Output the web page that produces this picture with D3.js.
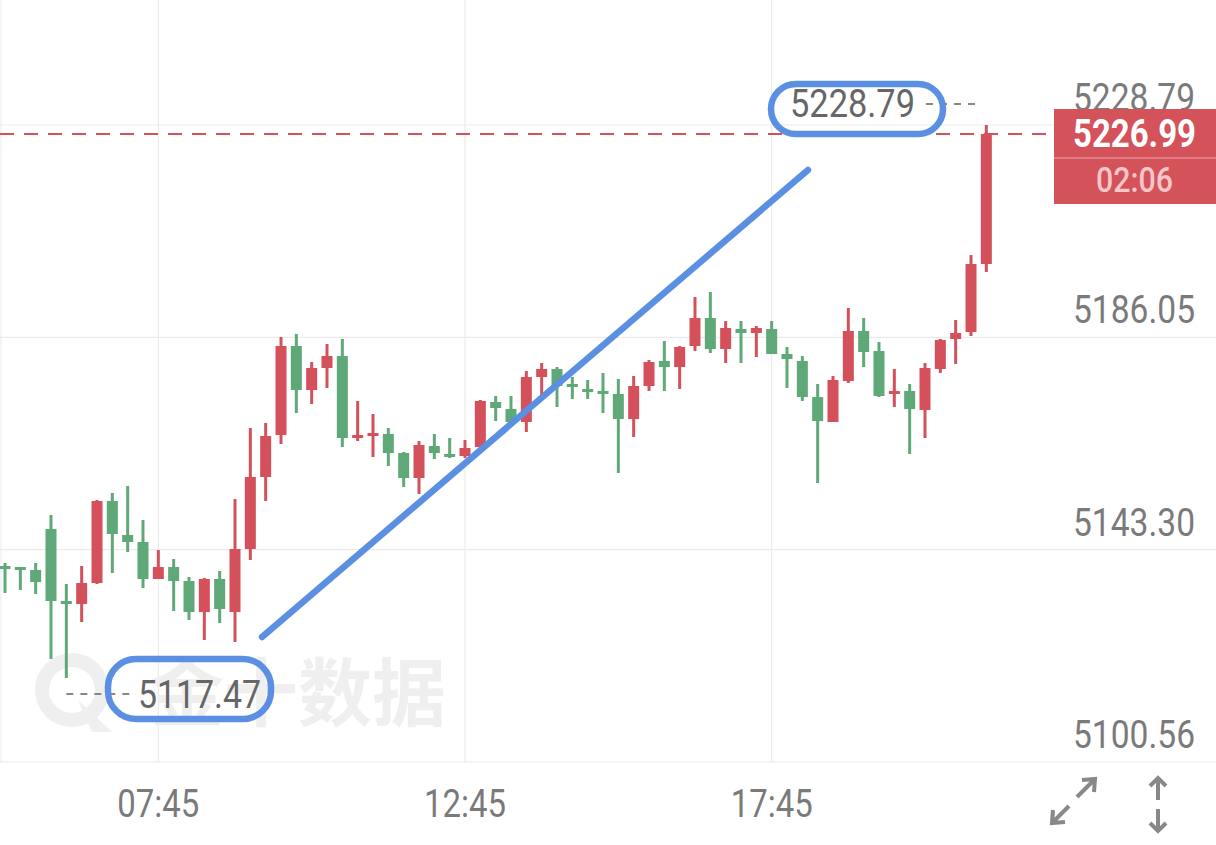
<!DOCTYPE html>
<html><head><meta charset="utf-8">
<script src="https://cdn.jsdelivr.net/npm/d3@7"></script>
<style>html,body{margin:0;padding:0;background:#fff;}svg{display:block;}</style>
</head><body>
<svg id="c" width="1216" height="845"></svg>
<script>
// 15-minute candles from 05:15 to 21:15
const startTime = "05:15";
const opens  = [5140.01,5139.81,5139.21,5147.46,5132.97,5132.36,5136.59,5153.10,5146.25,5144.85,5137.40,5139.81,5136.99,5130.75,5137.40,5130.75,5143.44,5157.93,5166.38,5184.30,5175.44,5179.87,5182.29,5165.78,5166.38,5166.59,5162.76,5157.73,5164.17,5162.56,5162.16,5163.97,5173.03,5171.62,5169.00,5178.06,5179.67,5176.65,5175.64,5175.24,5174.64,5169.60,5176.25,5181.28,5180.07,5184.30,5189.94,5183.70,5187.72,5186.92,5187.72,5182.69,5181.28,5174.03,5169.00,5177.25,5187.32,5183.29,5174.64,5175.24,5171.42,5179.67,5185.71,5187.12,5200.81];
const highs  = [5140.62,5139.81,5140.62,5150.28,5136.39,5140.01,5153.30,5154.71,5156.12,5149.27,5143.23,5141.42,5137.80,5137.60,5139.01,5153.50,5167.79,5168.80,5186.11,5186.72,5181.08,5184.70,5185.71,5173.23,5170.61,5167.79,5162.96,5165.18,5166.59,5165.78,5165.38,5173.43,5174.24,5174.24,5179.27,5180.88,5180.07,5178.06,5177.46,5178.87,5177.66,5178.26,5181.48,5185.31,5184.30,5194.16,5195.17,5189.33,5189.33,5188.33,5189.33,5184.10,5182.29,5176.65,5178.26,5191.95,5189.94,5185.11,5179.67,5176.65,5180.88,5185.71,5189.53,5202.62,5228.79];
const lows   = [5134.58,5135.18,5134.38,5121.29,5117.47,5128.74,5136.39,5138.61,5142.83,5135.59,5137.40,5130.95,5129.14,5125.12,5128.54,5124.72,5141.22,5153.10,5164.57,5170.81,5172.62,5175.85,5163.97,5165.18,5161.96,5160.14,5155.92,5154.51,5161.55,5161.75,5161.75,5163.97,5169.20,5168.80,5166.99,5174.44,5172.02,5173.63,5173.63,5170.81,5158.74,5165.98,5175.24,5175.24,5175.64,5183.29,5182.89,5180.88,5180.88,5182.09,5182.69,5175.85,5173.23,5156.72,5169.00,5176.85,5180.07,5174.03,5172.02,5162.56,5165.78,5178.87,5180.68,5186.31,5199.20];
const closes = [5139.61,5139.61,5136.79,5132.97,5132.36,5136.59,5153.10,5146.46,5144.85,5137.40,5139.81,5136.99,5130.75,5137.40,5131.36,5143.44,5157.93,5166.18,5184.30,5175.44,5179.87,5182.29,5165.78,5166.38,5166.79,5162.76,5157.73,5164.37,5162.76,5161.96,5163.77,5173.23,5171.82,5169.00,5178.06,5179.67,5176.25,5176.05,5175.24,5175.04,5169.60,5176.25,5181.08,5180.07,5184.10,5189.94,5183.70,5187.92,5186.92,5187.92,5182.69,5181.68,5174.03,5169.20,5177.46,5187.32,5183.09,5174.24,5175.24,5171.62,5179.87,5185.51,5186.92,5200.81,5226.99];
const yTicks = [5100.56, 5143.30, 5186.05, 5228.79];
const xTickLabels = ["07:45", "12:45", "17:45"];
const lastPrice = 5226.99;
const countdown = "02:06";
const maxHigh = 5228.79;
const minLow = 5117.47;
const watermark = "金十数据";

const parse = d3.timeParse("%H:%M");
const t0 = parse(startTime);
const data = opens.map((o, i) => ({
  t: d3.timeMinute.offset(t0, 15 * i), o, h: highs[i], l: lows[i], c: closes[i]
}));

const svg = d3.select("#c");
const x = d3.scaleTime().domain([t0, data[data.length - 1].t]).range([5, 986.33]);
const y = d3.scaleLinear().domain([5100.56, 5228.79]).range([762, 125]);

const UP = "#d4505a", DOWN = "#5fa878", GRID = "#ebebeb", TXT = "#7a7a7a", BLUE = "#5b8fe2";
const FONT = "Roboto, 'DejaVu Sans', sans-serif";

// grid
svg.append("g").selectAll("line").data(yTicks).join("line")
  .attr("x1", 0).attr("x2", 1216).attr("y1", d => y(d)).attr("y2", d => y(d))
  .attr("stroke", GRID).attr("stroke-width", 1.2);
svg.append("g").selectAll("line").data(xTickLabels).join("line")
  .attr("x1", d => x(parse(d))).attr("x2", d => x(parse(d)))
  .attr("y1", 0).attr("y2", 762).attr("stroke", GRID).attr("stroke-width", 1.2);
svg.append("line").attr("x1", 1).attr("x2", 1).attr("y1", 0).attr("y2", 762).attr("stroke", GRID);

// watermark
const wm = svg.append("g").attr("fill", "#efefef");
wm.append("circle").attr("cx", 72).attr("cy", 690).attr("r", 30)
  .attr("fill", "none").attr("stroke", "#efefef").attr("stroke-width", 14);
wm.append("path").attr("d", "M78,700 L112,732 L92,732 Z");
wm.append("text").attr("x", 150).attr("y", 720).attr("font-size", 74).attr("font-weight", 700)
  .attr("font-family", "'Noto Sans CJK SC', sans-serif").text(watermark);

// candles
const cg = svg.append("g");
const bw = 11;
cg.selectAll("line.w").data(data).join("line").attr("class", "w")
  .attr("x1", d => x(d.t)).attr("x2", d => x(d.t))
  .attr("y1", d => y(d.h)).attr("y2", d => y(d.l))
  .attr("stroke", d => d.c >= d.o ? UP : DOWN).attr("stroke-width", 3);
cg.selectAll("rect.b").data(data).join("rect").attr("class", "b")
  .attr("x", d => x(d.t) - bw / 2).attr("width", bw)
  .attr("y", d => y(Math.max(d.o, d.c)))
  .attr("height", d => Math.max(3, Math.abs(y(d.o) - y(d.c))))
  .attr("fill", d => d.c >= d.o ? UP : DOWN);

// last price dashed line
svg.append("line").attr("x1", 0).attr("x2", 1054).attr("y1", y(lastPrice)).attr("y2", y(lastPrice))
  .attr("stroke", UP).attr("stroke-width", 2).attr("stroke-dasharray", "14,10");

// y axis labels
svg.append("g").selectAll("text").data(yTicks).join("text")
  .attr("x", 1195).attr("y", d => y(d) - 14).attr("text-anchor", "end")
  .attr("font-family", FONT).attr("font-size", 38).attr("fill", TXT)
  .attr("textLength", 122).attr("lengthAdjust", "spacingAndGlyphs")
  .text(d => d.toFixed(2));

// x axis labels
svg.append("g").selectAll("text").data(xTickLabels).join("text")
  .attr("x", d => x(parse(d)) - 41).attr("y", 817)
  .attr("font-family", FONT).attr("font-size", 38).attr("fill", TXT)
  .attr("textLength", 82).attr("lengthAdjust", "spacingAndGlyphs")
  .text(d => d);

// price tag
const tag = svg.append("g");
tag.append("rect").attr("x", 1054).attr("y", 109).attr("width", 162).attr("height", 95).attr("fill", "#d4525a");
tag.append("line").attr("x1", 1054).attr("x2", 1216).attr("y1", 158).attr("y2", 158).attr("stroke", "#e58a8f").attr("stroke-width", 1.5);
tag.append("text").attr("x", 1073).attr("y", 147).attr("font-family", FONT).attr("font-size", 38)
  .attr("font-weight", 700).attr("fill", "#fff").attr("textLength", 123).attr("lengthAdjust", "spacingAndGlyphs")
  .text(lastPrice.toFixed(2));
tag.append("text").attr("x", 1096).attr("y", 192).attr("font-family", FONT).attr("font-size", 35)
  .attr("font-weight", 500).attr("fill", "#f7c6c8").attr("textLength", 77).attr("lengthAdjust", "spacingAndGlyphs")
  .text(countdown);

// max marker
const iMax = d3.maxIndex(data, d => d.h);
svg.append("line").attr("x1", 926).attr("x2", x(data[iMax].t) - 6).attr("y1", 104).attr("y2", 104)
  .attr("stroke", "#888").attr("stroke-width", 2).attr("stroke-dasharray", "7,7");
svg.append("text").attr("x", 790).attr("y", 117).attr("font-family", FONT).attr("font-size", 38).attr("fill", "#666")
  .attr("textLength", 125).attr("lengthAdjust", "spacingAndGlyphs").text(maxHigh.toFixed(2));

// min marker
const iMin = d3.minIndex(data, d => d.l);
svg.append("line").attr("x1", x(data[iMin].t)).attr("x2", 135).attr("y1", 694).attr("y2", 694)
  .attr("stroke", "#888").attr("stroke-width", 2).attr("stroke-dasharray", "7,7");
svg.append("text").attr("x", 138).attr("y", 708).attr("font-family", FONT).attr("font-size", 38).attr("fill", "#666")
  .attr("textLength", 123).attr("lengthAdjust", "spacingAndGlyphs").text(minLow.toFixed(2));

// hand-drawn annotations
const ann = svg.append("g").attr("fill", "none").attr("stroke", BLUE).attr("stroke-width", 6.5).attr("stroke-linecap", "round");
ann.append("rect").attr("x", 771).attr("y", 84).attr("width", 172).attr("height", 50).attr("rx", 25);
ann.append("rect").attr("x", 108).attr("y", 659).attr("width", 163).attr("height", 60).attr("rx", 28);
ann.append("line").attr("x1", 262).attr("y1", 637).attr("x2", 808).attr("y2", 170);

// icons
const ic = svg.append("g").attr("stroke", "#888").attr("stroke-width", 4).attr("fill", "none").attr("stroke-linecap", "butt");
ic.append("path").attr("d", "M1077,797 L1095,779 M1082,780 L1095,779 L1094,792");
ic.append("path").attr("d", "M1069,806 L1052,823 M1053,810 L1052,823 L1065,822");
ic.append("path").attr("d", "M1158,800 L1158,778 M1150,786 L1158,778 L1166,786");
ic.append("path").attr("d", "M1158,809 L1158,831 M1150,823 L1158,831 L1166,823");
</script>
</body></html>
